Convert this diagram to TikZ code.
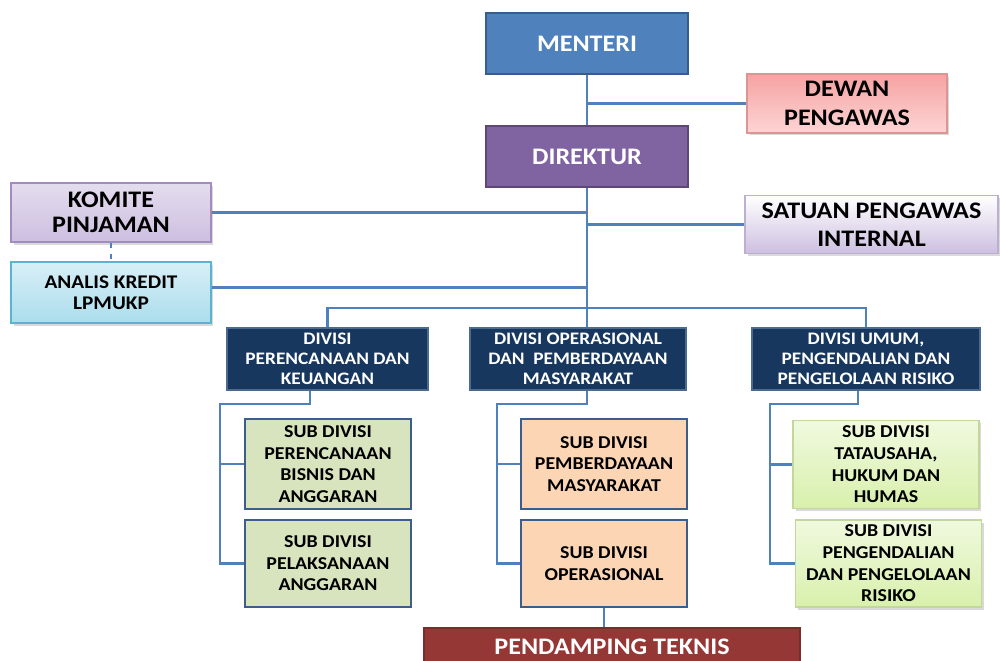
\documentclass[tikz,border=0pt]{standalone}
\usepackage{fontspec}
\setmainfont{Carlito}[FakeStretch=1.1]
\usepackage{xcolor}
\usepackage{tikz}
\usetikzlibrary{shadows}
\definecolor{ConnBlue}{HTML}{4F81BD}
\definecolor{MenteriEdge}{HTML}{385D8A}
\definecolor{DirekturFill}{HTML}{8064A2}
\definecolor{DirekturEdge}{HTML}{5C4776}
\definecolor{DewanTop}{HTML}{F5A3A2}
\definecolor{DewanBottom}{HTML}{FDD5D4}
\definecolor{DewanEdge}{HTML}{D99694}
\definecolor{LavTop}{HTML}{E4DCEE}
\definecolor{LavBottom}{HTML}{CDBFE0}
\definecolor{LavEdge}{HTML}{A08CBF}
\definecolor{CyanTop}{HTML}{D8EFF7}
\definecolor{CyanBottom}{HTML}{ABDDEC}
\definecolor{CyanEdge}{HTML}{5BB4CF}
\definecolor{DivNavy}{HTML}{17375E}
\definecolor{DivEdge}{HTML}{4A6A90}
\definecolor{SubEdge}{HTML}{3C5E8C}
\definecolor{SubGreen}{HTML}{D7E4BD}
\definecolor{SubOrange}{HTML}{FCD5B5}
\definecolor{LimeTop}{HTML}{F0F9DE}
\definecolor{LimeBottom}{HTML}{D8F0AC}
\definecolor{LimeEdge}{HTML}{C3D69B}
\definecolor{TeknisRed}{HTML}{953735}
\definecolor{TeknisEdge}{HTML}{7A2C2A}

\begin{document}
\begin{tikzpicture}[x=0.02cm, y=-0.02cm,
    box/.style={draw, line width=1.1pt, align=center, inner sep=1pt, font=\bfseries},
    topbox/.style={box, text=white, font=\fontsize{13.5}{15}\selectfont\bfseries},
    softbox/.style={box, drop shadow={opacity=0.3, shadow xshift=0.05cm, shadow yshift=-0.05cm}},
    divbox/.style={box, fill=DivNavy, draw=DivEdge, text=white, minimum height=1.24cm,
      font=\fontsize{10}{11.4}\selectfont\bfseries},
    subbox/.style={box, draw=SubEdge, minimum width=3.32cm,
      font=\fontsize{10.3}{12.3}\selectfont\bfseries},
    limebox/.style={softbox, top color=LimeTop, bottom color=LimeBottom, draw=LimeEdge,
      minimum width=3.72cm, font=\fontsize{10.3}{12.3}\selectfont\bfseries},
    conn/.style={draw=ConnBlue, line width=1.5pt}]
      \clip (0,0) rectangle (1000,660);

      % Pimpinan
      \node[topbox, fill=ConnBlue, draw=MenteriEdge, minimum width=4.04cm, minimum height=1.22cm]
        (menteri) at (587,43.5) {MENTERI};
      \node[topbox, fill=DirekturFill, draw=DirekturEdge, minimum width=4.04cm, minimum height=1.22cm]
        (direktur) at (587,156.5) {DIREKTUR};
      \node[softbox, top color=DewanTop, bottom color=DewanBottom, draw=DewanEdge,
        minimum width=4.0cm, minimum height=1.18cm, font=\fontsize{13.5}{16.5}\selectfont\bfseries]
        (dewan) at (847,103.5) {DEWAN\\PENGAWAS};

      % Komite dan pengawas
      \node[softbox, top color=LavTop, bottom color=LavBottom, draw=LavEdge,
        minimum width=4.0cm, minimum height=1.18cm, font=\fontsize{13.5}{14}\selectfont\bfseries]
        (komite) at (111,212.5) {KOMITE\\PINJAMAN};
      \node[softbox, top color=white, bottom color=LavBottom, draw=LavEdge!70,
        minimum width=5.06cm, minimum height=1.16cm, font=\fontsize{13.5}{16}\selectfont\bfseries]
        (satuan) at (871.5,224.5) {SATUAN PENGAWAS\\INTERNAL};
      \node[softbox, top color=CyanTop, bottom color=CyanBottom, draw=CyanEdge,
        minimum width=4.0cm, minimum height=1.22cm, font=\fontsize{11}{12}\selectfont\bfseries]
        (analis) at (111,292.5) {ANALIS KREDIT\\LPMUKP};

      % Divisi
      \node[divbox, minimum width=4.02cm] (div1) at (327.5,359) {DIVISI\\PERENCANAAN DAN\\KEUANGAN};
      \node[divbox, minimum width=4.32cm] (div2) at (578,359) {DIVISI OPERASIONAL\\DAN~~PEMBERDAYAAN\\MASYARAKAT};
      \node[divbox, minimum width=4.56cm] (div3) at (866,359) {DIVISI UMUM,\\PENGENDALIAN DAN\\PENGELOLAAN RISIKO};

      % Sub divisi
      \node[subbox, fill=SubGreen, minimum height=1.8cm] (sb1) at (328,464) {SUB DIVISI\\PERENCANAAN\\BISNIS DAN\\ANGGARAN};
      \node[subbox, fill=SubGreen, minimum height=1.74cm] (sb2) at (328,563.5) {SUB DIVISI\\PELAKSANAAN\\ANGGARAN};
      \node[subbox, fill=SubOrange, minimum height=1.8cm] (sb3) at (604,464) {SUB DIVISI\\PEMBERDAYAAN\\MASYARAKAT};
      \node[subbox, fill=SubOrange, minimum height=1.74cm] (sb4) at (604,563.5) {SUB DIVISI\\OPERASIONAL};
      \node[limebox, minimum height=1.76cm] (sb5) at (886,464.5) {SUB DIVISI\\TATAUSAHA,\\HUKUM DAN\\HUMAS};
      \node[limebox, minimum height=1.74cm] (sb6) at (888.5,563.5) {SUB DIVISI\\PENGENDALIAN\\DAN PENGELOLAAN\\RISIKO};

      \node[topbox, fill=TeknisRed, draw=TeknisEdge, minimum width=7.52cm, minimum height=0.76cm]
        (teknis) at (612,647) {PENDAMPING TEKNIS};

      % Garis
      \coordinate (bar) at (587,308);
      \coordinate (k1) at (220,404);
      \coordinate (k2) at (497,404);
      \coordinate (k3) at (770,404);
      \draw[conn] (menteri) -- (direktur);
      \draw[conn] (dewan.west) -- (dewan.west -| menteri.south);
      \draw[conn] (direktur) -- (bar) -- (bar |- div2.north);
      \draw[conn] (komite.east) -- (komite.east -| bar);
      \draw[conn] (satuan.west) -- (satuan.west -| bar);
      \draw[conn] ([yshift=0.1cm]analis.east) -- ([yshift=0.1cm]analis.east -| bar);
      \draw[conn, dashed] (komite.south) -- (analis.north);
      \draw[conn] (div1.north) |- (bar) -| (div3.north);

      \draw[conn] ([xshift=-0.35cm]div1.south) |- (k1) |- (sb2.west);
      \draw[conn] (k1 |- sb1.west) -- (sb1.west);
      \draw[conn] ([xshift=0.18cm]div2.south) |- (k2) |- (sb4.west);
      \draw[conn] (k2 |- sb3.west) -- (sb3.west);
      \draw[conn] ([xshift=-0.16cm]div3.south) |- (k3) |- (sb6.west);
      \draw[conn] (k3 |- sb5.west) -- (sb5.west);
      \draw[conn] (sb4.south) -- (sb4.south |- teknis.north);

    \end{tikzpicture}
\end{document}
